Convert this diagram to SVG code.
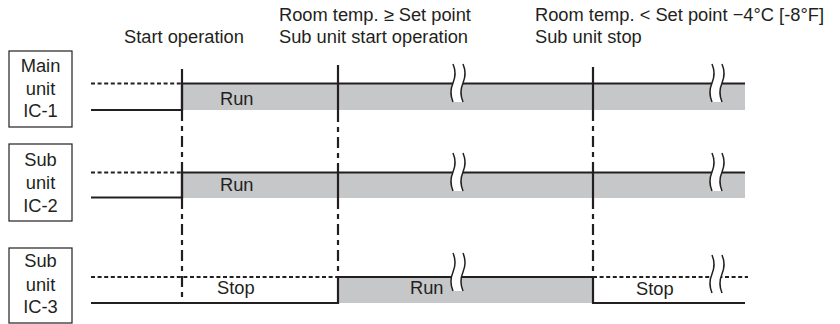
<svg xmlns="http://www.w3.org/2000/svg" width="840" height="324" viewBox="0 0 840 324">
<style>
text{font-family:"Liberation Sans",Arial,sans-serif;font-size:18.3px;fill:#231f20}
.c{text-anchor:middle}
.box{fill:#fff;stroke:#231f20;stroke-width:1.2}
.ln{stroke:#231f20;stroke-width:2.2;fill:none}
.dot{stroke:#231f20;stroke-width:2;fill:none;stroke-dasharray:4 2.6}
.dd{stroke:#231f20;stroke-width:2.2;fill:none;stroke-dasharray:11 5 5 5}
.gray{fill:#c6c7c9}
.bf{fill:#fff;stroke:none}
.bs{fill:none;stroke:#231f20;stroke-width:1.5}
</style>
<defs>
<g id="brk">
<path class="bf" d="M0,0 C3,7 3,12 0,19 C-3,26 -3,31 0,38 L10,38 C7,31 7,26 10,19 C13,12 13,7 10,0 Z"/>
<path class="bs" d="M0,0 C3,7 3,12 0,19 C-3,26 -3,31 0,38 M10,0 C13,7 13,12 10,19 C7,26 7,31 10,38"/>
</g>
</defs>
<g id="headers">
<text x="124" y="43">Start operation</text>
<text x="279" y="21">Room temp. ≥ Set point</text>
<text x="279" y="43">Sub unit start operation</text>
<text x="535" y="21">Room temp. &lt; Set point −4°C [-8°F]</text>
<text x="535" y="43">Sub unit stop</text>
</g>
<g id="ic1">
<rect class="box" x="9" y="51" width="63" height="76"/>
<text class="c" x="40.5" y="72">Main</text>
<text class="c" x="40.5" y="95">unit</text>
<text class="c" x="40.5" y="117">IC-1</text>
<rect class="gray" x="182" y="83" width="563" height="27"/>
<path class="dot" d="M91,83.5H182"/>
<path class="ln" d="M91,110H182V83.5H745"/>
<text x="220" y="105">Run</text>
<use href="#brk" x="453" y="64"/>
<use href="#brk" x="712" y="64"/>
</g>
<g id="ic2">
<rect class="box" x="9" y="144" width="63" height="77"/>
<text class="c" x="40.5" y="166">Sub</text>
<text class="c" x="40.5" y="189">unit</text>
<text class="c" x="40.5" y="212">IC-2</text>
<rect class="gray" x="182" y="172" width="563" height="26"/>
<path class="dot" d="M91,172.5H182"/>
<path class="ln" d="M91,197.5H182V172.5H745"/>
<text x="220" y="191">Run</text>
<use href="#brk" x="453" y="153"/>
<use href="#brk" x="712" y="153"/>
</g>
<g id="ic3">
<rect class="box" x="9" y="248" width="63" height="75"/>
<text class="c" x="40.5" y="267">Sub</text>
<text class="c" x="40.5" y="291">unit</text>
<text class="c" x="40.5" y="313">IC-3</text>
<rect class="gray" x="338" y="277" width="255" height="26"/>
<path class="dot" d="M91,277H338M593,277H748"/>
<path class="ln" d="M91,303H338V277H593V303H745"/>
<text x="217" y="294">Stop</text>
<text x="410" y="294">Run</text>
<text x="636" y="295">Stop</text>
<use href="#brk" x="453" y="253"/>
<use href="#brk" x="712" y="255"/>
</g>
<g id="connectors">
<path class="ln" d="M182,69V110M338,65V111M593,67V110M182,172V198M338,172V198M593,172V198"/>
<path class="dd" d="M182,110V172M182,198V303M338,111V172M338,198V277M593,110V172M593,198V277"/>
</g>
</svg>
